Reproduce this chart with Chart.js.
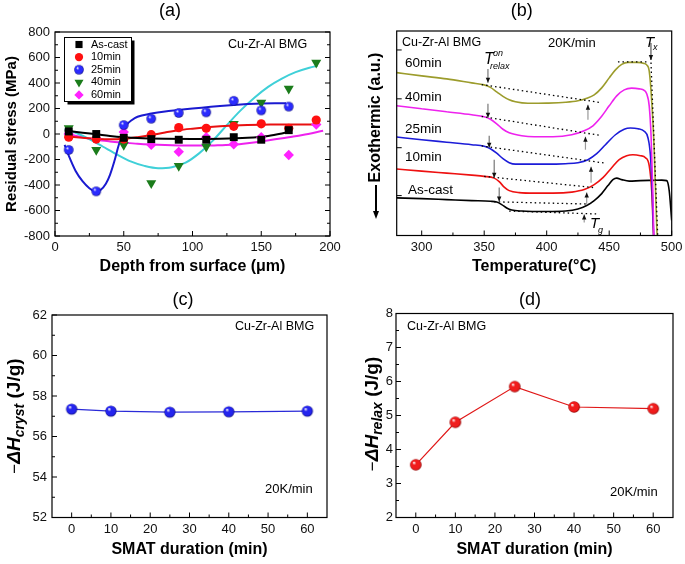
<!DOCTYPE html>
<html><head><meta charset="utf-8">
<script src="https://cdn.jsdelivr.net/npm/chart.js@4/dist/chart.umd.min.js"></script>
<style>
html,body{margin:0;padding:0;background:#fff;}
#wrap{position:relative;width:685px;height:564px;overflow:hidden;background:#fff;}
canvas{position:absolute;left:0;top:0;}
</style></head><body>
<div id="wrap">
<canvas id="ca" width="685" height="564"></canvas>
<canvas id="cb" width="685" height="564"></canvas>
<canvas id="cc" width="685" height="564"></canvas>
<canvas id="cd" width="685" height="564"></canvas>
</div>
<script>
// ================= DATA =================
// (a) residual stress vs depth
const seriesNames = ['As-cast', '10min', '25min', '40min', '60min'];
const depthPts = [10, 30, 50, 70, 90, 110, 130, 150, 170, 190];
const stressAsCast = [20, 0, -30, -40, -45, -45, -25, -45, 30, null];
const stress10min = [-25, -40, -40, -5, 50, 45, 60, 80, 45, 110];
const stress25min = [-125, -450, 70, 120, 165, 170, 260, 185, 215, null];
const stress40min = [45, -125, -85, -385, -250, -100, 80, 245, 355, 560];
const stress60min = [0, -35, 15, -85, -140, -25, -80, -25, -165, 75];

const fitAsCastX = [7, 20, 30, 40, 50, 60, 80, 100, 120, 140, 155, 170];
const fitAsCastY = [28, 10, -2, -15, -25, -32, -38, -40, -38, -30, -15, 15];
const fit10X = [7, 20, 30, 40, 50, 60, 70, 80, 90, 100, 110, 120, 130, 140, 150, 160, 170, 190];
const fit10Y = [-18, -30, -38, -42, -38, -25, -8, 12, 30, 42, 52, 60, 66, 70, 73, 74, 75, 75];
const fit25X = [7, 10, 15, 20, 25, 29, 33, 37, 40, 43, 46, 49, 52, 56, 60, 70, 80, 90, 100, 110, 120, 130, 140, 150, 160, 168];
const fit25Y = [-85, -170, -290, -370, -425, -450, -440, -390, -320, -220, -100, 0, 70, 110, 135, 160, 177, 188, 200, 210, 220, 228, 235, 240, 242, 242];
const fit40X = [7, 15, 25, 35, 45, 55, 65, 75, 85, 95, 105, 115, 125, 135, 145, 155, 165, 175, 185, 191];
const fit40Y = [40, 10, -40, -100, -160, -215, -250, -268, -260, -225, -150, -50, 70, 185, 285, 370, 435, 485, 520, 535];
const fit60X = [7, 20, 30, 40, 50, 60, 70, 80, 90, 100, 110, 120, 130, 140, 150, 160, 170, 180, 195];
const fit60Y = [8, -25, -45, -58, -68, -77, -83, -87, -90, -91, -91, -88, -83, -72, -58, -42, -25, -8, 25];

const aXMajor = [0, 50, 100, 150, 200];
const aXMinor = [25, 75, 125, 175];
const aYMajor = [-800, -600, -400, -200, 0, 200, 400, 600, 800];
const aYMinor = [-700, -500, -300, -100, 100, 300, 500, 700];

// (b) DSC traces (arbitrary units)
const dscT60 = [280, 300, 320, 340, 350, 355, 360, 365, 370, 375, 385, 400, 415, 425, 432, 438, 444, 450, 455, 460, 465, 472, 478, 480, 482, 484, 486, 488, 489];
const dsc60 = [163.3, 160, 157, 153, 151, 148.5, 144, 139.5, 136, 134, 132.5, 132.7, 133.5, 135, 137.5, 141, 148, 158, 166, 171.5, 173.5, 173.5, 172.5, 171, 165, 135, 85, 10, -20];
const dscT40 = [280, 300, 320, 340, 350, 355, 360, 365, 370, 380, 390, 405, 420, 430, 437, 443, 450, 456, 462, 468, 474, 478, 480, 482, 483.5, 485, 486];
const dsc40 = [130, 127, 124, 121, 119, 116.5, 112, 106.5, 103, 100, 99, 99, 101, 105, 110, 118, 130, 140, 146, 147.7, 147, 145.5, 142, 130, 100, 40, -20];
const dscT25 = [280, 300, 320, 340, 350, 355, 360, 365, 370, 375, 385, 400, 415, 425, 433, 440, 447, 455, 462, 467, 473, 478, 481, 483, 484.5, 486];
const dsc25 = [98.7, 96, 93.5, 91, 89.5, 87, 82.5, 77, 73, 71.5, 71.5, 71.5, 72, 73, 76, 82, 91, 101, 106.5, 107.7, 107, 104.5, 98, 80, 40, -20];
const dscT10 = [280, 300, 320, 340, 350, 358, 362, 366, 370, 378, 390, 405, 420, 430, 438, 445, 452, 458, 464, 469, 475, 479, 482, 484, 485.5, 486.5];
const dsc10 = [66.7, 64.5, 62.5, 60.5, 59.3, 57.5, 54, 48.5, 45, 43, 42.5, 42.5, 43.5, 46, 51, 58, 68, 76, 80, 81, 80, 78, 70, 45, 0, -20];
const dscTAC = [280, 300, 320, 340, 355, 360, 364, 368, 372, 380, 400, 415, 425, 432, 438, 444, 449, 453, 456, 460, 466, 475, 485, 492, 496, 498, 500];
const dscAC = [37.7, 37, 36, 35, 34.3, 33.5, 31, 27.5, 25.5, 24.5, 24, 24.5, 26.5, 30, 35, 42, 50, 56, 57.5, 56, 54.5, 55, 55.3, 55.5, 55, 45, 15];
const dscLabels = ['60min', '40min', '25min', '10min', 'As-cast'];
const dscLabelT = [286.6, 286.6, 286.6, 286.6, 289];
const dscLabelV = [173, 139, 106.5, 78, 45];
// tangent (dotted) construction lines: [T1, T2], [v1, v2]
const tanT = [[348, 442], [348, 442], [348, 447], [350, 438], [358, 434], [370, 442], [483.3, 488.8], [457, 481]];
const tanV = [[151.3, 133.5], [119.3, 100.5], [89.8, 72.5], [59.3, 48], [33.8, 31.5], [24.5, 21.5], [178, 0], [174, 174]];
// arrows: T, from, to
const relaxArrowT = [353, 353, 354, 358, 362];
const relaxArrowFrom = [167, 132, 100, 76, 48];
const relaxArrowTo = [153, 118, 88, 58, 34];
const tgArrowT = [433, 431, 435.5, 432, 430];
const tgArrowFrom = [116, 86, 53, 31, 13];
const tgArrowTo = [131, 99, 69, 43, 21];
const txArrow = [483.4, 193, 176];

const bXMajor = [300, 350, 400, 450, 500];
const bXMinor = [325, 375, 425, 475];
const bYMajor = [40, 88, 137, 186];

// (c) and (d)
const smatTime = [0, 10, 25, 40, 60];
const hCryst = [57.35, 57.25, 57.2, 57.22, 57.25];
const hRelax = [3.55, 4.8, 5.85, 5.25, 5.2];
const cdXMajor = [0, 10, 20, 30, 40, 50, 60];
const cdXMinor = [5, 15, 25, 35, 45, 55];
const cYMajor = [52, 54, 56, 58, 60, 62];
const cYMinor = [53, 55, 57, 59, 61];
const dYMajor = [2, 3, 4, 5, 6, 7, 8];
const dYMinor = [2.5, 3.5, 4.5, 5.5, 6.5, 7.5];

// ================= HELPERS =================
const F = '"Liberation Sans", Arial, Helvetica, sans-serif';
Chart.defaults.font.family = F;
Chart.defaults.color = '#000';

const zip = (xs, ys) => xs.map((x, i) => ({x, y: ys[i]}));

function sphere(r, base, dark) {
  const c = document.createElement('canvas');
  const s = Math.ceil(r * 2) + 2;
  c.width = c.height = s;
  const g = c.getContext('2d');
  const cx = s / 2, cy = s / 2;
  const grad = g.createRadialGradient(cx - r * 0.35, cy - r * 0.4, r * 0.05, cx, cy, r);
  grad.addColorStop(0, '#ffffff');
  grad.addColorStop(0.3, base);
  grad.addColorStop(0.8, base);
  grad.addColorStop(1, dark);
  g.fillStyle = grad;
  g.beginPath(); g.arc(cx, cy, r, 0, Math.PI * 2); g.fill();
  return c;
}

function xAxis(min, max, ticks, H, title, tsize) {
  return {
    type: 'linear', position: 'bottom', min, max,
    grid: {display: false, drawTicks: false}, border: {display: false},
    ticks: {font: {family: F, size: 13}, color: '#111', padding: 4, maxRotation: 0},
    afterBuildTicks: s => { s.ticks = ticks.map(v => ({value: v})); },
    afterFit: s => { s.height = H; s.paddingLeft = 0; s.paddingRight = 0; },
    title: title ? {display: true, text: title, font: {family: F, size: tsize || 16, weight: 'bold'}, padding: {top: 0, bottom: 0}, color: '#000'} : {display: false}
  };
}
function yAxis(min, max, ticks, W, showLabels, title, tsize, tpad, lpad) {
  return {
    type: 'linear', position: 'left', min, max,
    grid: {display: false, drawTicks: false}, border: {display: false},
    ticks: {display: showLabels, font: {family: F, size: 13}, color: '#111', padding: lpad || 5},
    afterBuildTicks: s => { s.ticks = ticks.map(v => ({value: v})); },
    afterFit: s => { s.width = W; s.paddingTop = 0; s.paddingBottom = 0; },
    title: title ? {display: true, text: title, font: {family: F, size: tsize || 16, weight: 'bold'}, padding: {top: tpad || 0, bottom: 0}, color: '#000'} : {display: false}
  };
}

function drawFrame(chart, o) {
  const {ctx, chartArea: a} = chart;
  const xs = chart.scales.x, ys = chart.scales.y;
  ctx.save();
  ctx.strokeStyle = '#000';
  ctx.lineWidth = 1.2;
  ctx.strokeRect(a.left, a.top, a.right - a.left, a.bottom - a.top);
  ctx.lineWidth = 1;
  ctx.beginPath();
  const tx = (vals, len) => (vals || []).forEach(v => { const p = xs.getPixelForValue(v); ctx.moveTo(p, a.bottom); ctx.lineTo(p, a.bottom - len); });
  const ty = (vals, len) => (vals || []).forEach(v => {
    const p = ys.getPixelForValue(v);
    ctx.moveTo(a.left, p); ctx.lineTo(a.left + len, p);
    if (o.right) { ctx.moveTo(a.right, p); ctx.lineTo(a.right - len, p); }
  });
  tx(o.xMajor, 5); tx(o.xMinor, 3); ty(o.yMajor, 5); ty(o.yMinor, 3);
  ctx.stroke();
  ctx.restore();
}

function text(ctx, s, x, y, font, align, base, color) {
  ctx.save();
  ctx.font = font;
  ctx.textAlign = align || 'left';
  ctx.textBaseline = base || 'middle';
  ctx.fillStyle = color || '#000';
  ctx.fillText(s, x, y);
  ctx.restore();
}

function vArrow(ctx, x, y1, y2, shaft, head) {
  ctx.save();
  ctx.strokeStyle = shaft; ctx.lineWidth = 1.2;
  ctx.beginPath(); ctx.moveTo(x, y1); ctx.lineTo(x, y2); ctx.stroke();
  const d = y2 > y1 ? 1 : -1;
  ctx.fillStyle = head;
  ctx.beginPath();
  ctx.moveTo(x, y2); ctx.lineTo(x - 2.2, y2 - d * 5); ctx.lineTo(x + 2.2, y2 - d * 5); ctx.closePath(); ctx.fill();
  ctx.restore();
}

// rotated y-title of form  −ΔH_sub (J/g)
function deltaHTitle(ctx, cx, cy, sub) {
  const parts = [
    {s: '\u2212', f: '17px ' + F, dy: 0},
    {s: '\u0394H', f: 'italic bold 19px ' + F, dy: 0},
    {s: sub, f: 'italic bold 14px ' + F, dy: 5},
    {s: ' (J/g)', f: 'bold 19px ' + F, dy: 0}
  ];
  ctx.save();
  let total = 0;
  parts.forEach(p => { ctx.font = p.f; p.w = ctx.measureText(p.s).width; total += p.w; });
  ctx.translate(cx, cy);
  ctx.rotate(-Math.PI / 2);
  ctx.textBaseline = 'middle';
  ctx.fillStyle = '#000';
  let x = -total / 2;
  parts.forEach(p => { ctx.font = p.f; ctx.fillText(p.s, x, p.dy); x += p.w; });
  ctx.restore();
}

const baseOpts = {
  responsive: false, animation: false, devicePixelRatio: 1,
  events: [],
  plugins: {legend: {display: false}, tooltip: {enabled: false}, title: {display: false}}
};

// ================= (a) =================
const markerA = {
  asCast: {pointStyle: 'rect', radius: 5.6, color: '#000'},
  m10: {pointStyle: 'circle', radius: 4.6, color: '#ff1010'},
  m25: {pointStyle: sphere(4.8, '#2b2bff', '#0a0a80'), radius: 4.8, color: '#2b2bff'},
  m40: {pointStyle: 'triangle', radius: 5.8, color: '#1b7c1b', rotation: 180},
  m60: {pointStyle: 'rectRot', radius: 5.2, color: '#ff22ff'}
};
function ptsDs(label, ys, m) {
  return {
    label, data: zip(depthPts, ys).filter(p => p.y !== null), showLine: false, inLegend: true,
    pointStyle: m.pointStyle, pointRadius: m.radius, rotation: m.rotation || 0,
    backgroundColor: m.color, borderColor: m.color, pointBorderWidth: 0, borderWidth: 0
  };
}
function fitDs(xs, ys, color) {
  return {data: zip(xs, ys), showLine: true, pointRadius: 0, borderColor: color, borderWidth: 2,
          cubicInterpolationMode: 'monotone', fill: false};
}

new Chart(document.getElementById('ca'), {
  type: 'scatter',
  data: {datasets: [
    ptsDs(seriesNames[0], stressAsCast, markerA.asCast),
    ptsDs(seriesNames[1], stress10min, markerA.m10),
    ptsDs(seriesNames[2], stress25min, markerA.m25),
    ptsDs(seriesNames[3], stress40min, markerA.m40),
    ptsDs(seriesNames[4], stress60min, markerA.m60),
    fitDs(fitAsCastX, fitAsCastY, '#000000'),
    fitDs(fit10X, fit10Y, '#e81010'),
    fitDs(fit25X, fit25Y, '#1a1ad0'),
    fitDs(fit40X, fit40Y, '#3fd0d8'),
    fitDs(fit60X, fit60Y, '#ee22ee')
  ]},
  options: Object.assign({}, baseOpts, {
    layout: {padding: {left: 0, top: 32, right: 355, bottom: 288}},
    scales: {
      x: xAxis(0, 200, aXMajor, 40, 'Depth from surface (\u03bcm)', 16),
      y: yAxis(-800, 800, aYMajor, 55, true, 'Residual stress (MPa)', 15, 3)
    }
  }),
  plugins: [{
    id: 'decoA',
    afterDraw(chart) {
      drawFrame(chart, {xMajor: aXMajor, xMinor: aXMinor, yMajor: aYMajor, yMinor: aYMinor, right: true});
      const ctx = chart.ctx;
      text(ctx, '(a)', 170, 11, '18px ' + F, 'center');
      text(ctx, 'Cu-Zr-Al BMG', 228, 45, '12.5px ' + F, 'left');
      // legend
      const x0 = 64.5, y0 = 37.5, w = 67, h = 64;
      ctx.save();
      ctx.fillStyle = '#000'; ctx.fillRect(x0 + 3, y0 + 3, w, h);
      ctx.fillStyle = '#fff'; ctx.fillRect(x0, y0, w, h);
      ctx.strokeStyle = '#000'; ctx.lineWidth = 1; ctx.strokeRect(x0, y0, w, h);
      chart.data.datasets.filter(d => d.inLegend).forEach((d, i) => {
        const y = y0 + 7 + i * 12.6;
        ctx.fillStyle = d.backgroundColor; ctx.strokeStyle = d.borderColor;
        Chart.helpers.drawPoint(ctx, {pointStyle: d.pointStyle, rotation: d.rotation, radius: d.pointRadius * 0.9, borderWidth: 0}, 79, y);
        text(ctx, d.label, 91, y, '11px ' + F, 'left');
      });
      ctx.restore();
    }
  }]
});

// ================= (b) =================
function dscDs(xs, ys, color) {
  return {data: zip(xs, ys), showLine: true, pointRadius: 0, borderColor: color, borderWidth: 1.6,
          cubicInterpolationMode: 'monotone', fill: false};
}
const dotDs = tanT.map((t, i) => ({
  data: zip(t, tanV[i]), showLine: true, pointRadius: 0, borderColor: '#000', borderWidth: 1.3,
  borderDash: [1.5, 3], fill: false
}));

new Chart(document.getElementById('cb'), {
  type: 'scatter',
  data: {datasets: [
    ...dotDs,
    dscDs(dscT60, dsc60, '#9c9c2c'),
    dscDs(dscT40, dsc40, '#ee22ee'),
    dscDs(dscT25, dsc25, '#1c1cd8'),
    dscDs(dscT10, dsc10, '#ee1111'),
    dscDs(dscTAC, dscAC, '#000000')
  ]},
  options: Object.assign({}, baseOpts, {
    layout: {padding: {left: 376.7, top: 31, right: 13.3, bottom: 287.5}},
    scales: {
      x: xAxis(280, 500, bXMajor, 41, 'Temperature(\u00b0C)', 16),
      y: yAxis(0, 205, bYMajor, 20, false)
    }
  }),
  plugins: [{
    id: 'decoB',
    afterDraw(chart) {
      drawFrame(chart, {xMajor: bXMajor, xMinor: bXMinor, yMajor: bYMajor});
      const ctx = chart.ctx, xs = chart.scales.x, ys = chart.scales.y;
      text(ctx, '(b)', 521.7, 11, '18px ' + F, 'center');
      text(ctx, 'Cu-Zr-Al BMG', 402, 43, '12.5px ' + F, 'left');
      text(ctx, '20K/min', 548, 43, '13px ' + F, 'left');
      dscLabels.forEach((s, i) => text(ctx, s, xs.getPixelForValue(dscLabelT[i]), ys.getPixelForValue(dscLabelV[i]), '13.5px ' + F, 'left'));
      relaxArrowT.forEach((t, i) => vArrow(ctx, xs.getPixelForValue(t), ys.getPixelForValue(relaxArrowFrom[i]), ys.getPixelForValue(relaxArrowTo[i]), '#777', '#111'));
      tgArrowT.forEach((t, i) => vArrow(ctx, xs.getPixelForValue(t), ys.getPixelForValue(tgArrowFrom[i]), ys.getPixelForValue(tgArrowTo[i]), '#999', '#111'));
      vArrow(ctx, xs.getPixelForValue(txArrow[0]), ys.getPixelForValue(txArrow[1]), ys.getPixelForValue(txArrow[2]), '#555', '#111');
      // T_relax^on
      text(ctx, 'T', 484, 64, 'italic 16px ' + F, 'left', 'alphabetic');
      text(ctx, 'on', 493, 56, 'italic 9px ' + F, 'left', 'alphabetic');
      text(ctx, 'relax', 490, 69, 'italic 9px ' + F, 'left', 'alphabetic');
      // Tx
      text(ctx, 'T', 645, 47, 'italic 15px ' + F, 'left', 'alphabetic');
      text(ctx, 'x', 653, 50, 'italic 9px ' + F, 'left', 'alphabetic');
      // Tg
      text(ctx, 'T', 590, 228, 'italic 15px ' + F, 'left', 'alphabetic');
      text(ctx, 'g', 598, 233, 'italic 9px ' + F, 'left', 'alphabetic');
      // y title with arrow
      ctx.save();
      ctx.translate(376, 117.5);
      ctx.rotate(-Math.PI / 2);
      ctx.font = 'bold 16px ' + F; ctx.textAlign = 'center'; ctx.textBaseline = 'middle'; ctx.fillStyle = '#000';
      ctx.fillText('Exothermic (a.u.)', 0, 0);
      ctx.restore();
      ctx.save();
      ctx.strokeStyle = '#000'; ctx.lineWidth = 2;
      ctx.beginPath(); ctx.moveTo(376, 185); ctx.lineTo(376, 213); ctx.stroke();
      ctx.fillStyle = '#000';
      ctx.beginPath(); ctx.moveTo(376, 219); ctx.lineTo(373, 211); ctx.lineTo(379, 211); ctx.closePath(); ctx.fill();
      ctx.restore();
    }
  }]
});

// ================= (c) =================
new Chart(document.getElementById('cc'), {
  type: 'scatter',
  data: {datasets: [{
    data: zip(smatTime, hCryst), showLine: true, borderColor: '#2a2ad8', borderWidth: 1.2,
    pointStyle: sphere(5.6, '#2424ee', '#0a0a7a'), pointRadius: 5.6
  }]},
  options: Object.assign({}, baseOpts, {
    layout: {padding: {left: 32, top: 315, right: 358, bottom: 4.5}},
    scales: {
      x: xAxis(-5, 65, cdXMajor, 42, 'SMAT duration (min)', 16),
      y: yAxis(52, 62, cYMajor, 20, true)
    }
  }),
  plugins: [{
    id: 'decoC',
    afterDraw(chart) {
      drawFrame(chart, {xMajor: cdXMajor, xMinor: cdXMinor, yMajor: cYMajor, yMinor: cYMinor});
      const ctx = chart.ctx;
      text(ctx, '(c)', 183, 300, '18px ' + F, 'center');
      text(ctx, 'Cu-Zr-Al BMG', 235, 327, '12.5px ' + F, 'left');
      text(ctx, '20K/min', 265, 489, '13px ' + F, 'left');
      deltaHTitle(ctx, 15, 416, 'cryst');
    }
  }]
});

// ================= (d) =================
new Chart(document.getElementById('cd'), {
  type: 'scatter',
  data: {datasets: [{
    data: zip(smatTime, hRelax), showLine: true, borderColor: '#e01818', borderWidth: 1.2,
    pointStyle: sphere(5.8, '#f01c1c', '#8a0000'), pointRadius: 5.8
  }]},
  options: Object.assign({}, baseOpts, {
    layout: {padding: {left: 376, top: 313.5, right: 12, bottom: 4.5}},
    scales: {
      x: xAxis(-5, 65, cdXMajor, 42, 'SMAT duration (min)', 16),
      y: yAxis(2, 8, dYMajor, 20, true, null, 0, 0, 3)
    }
  }),
  plugins: [{
    id: 'decoD',
    afterDraw(chart) {
      drawFrame(chart, {xMajor: cdXMajor, xMinor: cdXMinor, yMajor: dYMajor, yMinor: dYMinor});
      const ctx = chart.ctx;
      text(ctx, '(d)', 530, 300, '18px ' + F, 'center');
      text(ctx, 'Cu-Zr-Al BMG', 407, 327, '12.5px ' + F, 'left');
      text(ctx, '20K/min', 610, 492, '13px ' + F, 'left');
      deltaHTitle(ctx, 373, 414, 'relax');
    }
  }]
});
</script>
</body></html>
